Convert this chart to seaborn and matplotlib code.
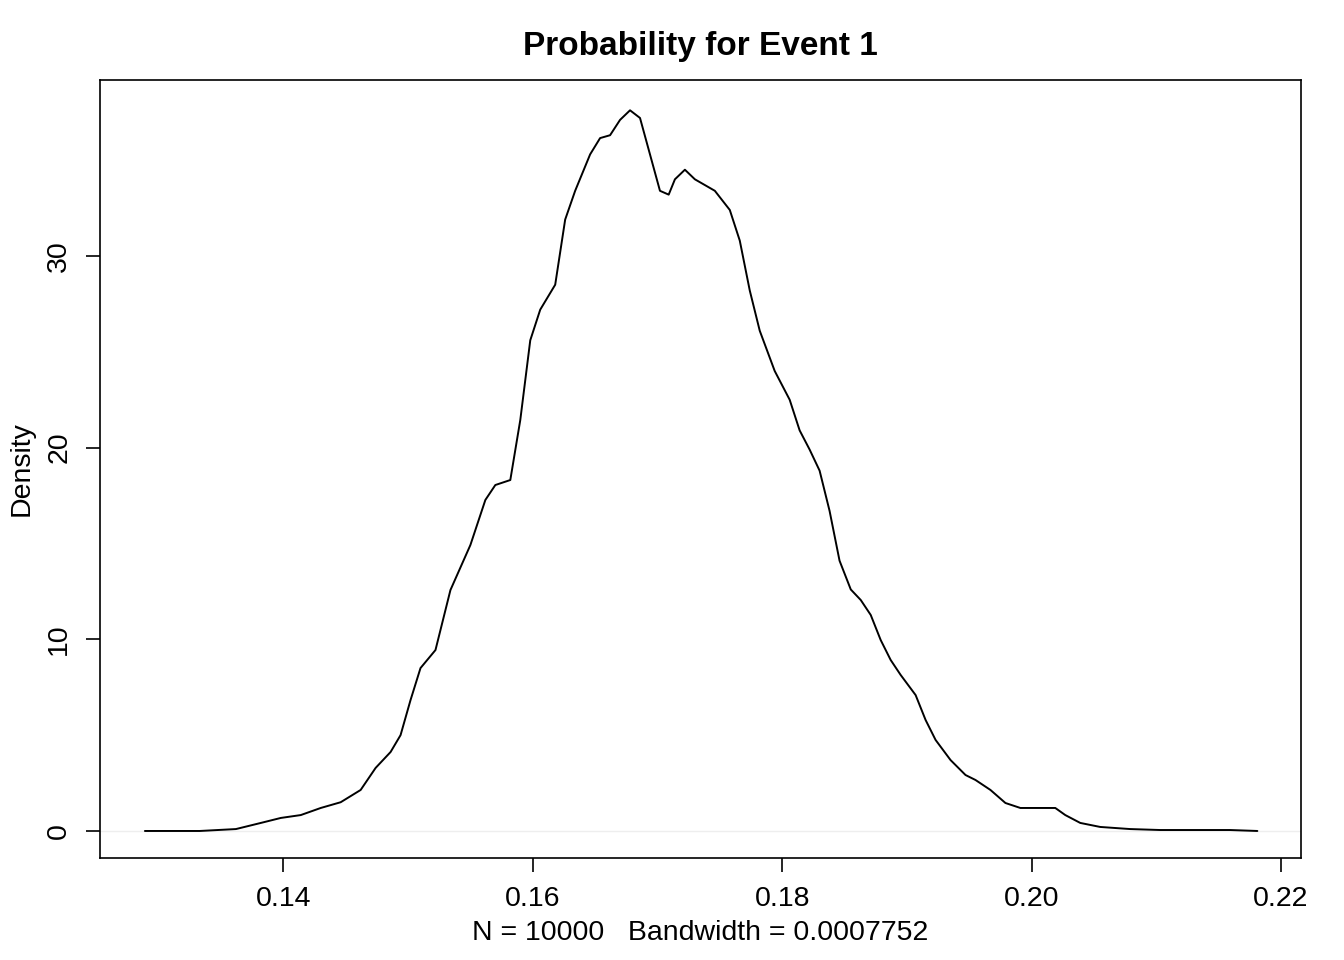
import numpy as np
import pandas as pd
import matplotlib
matplotlib.use("Agg")
import matplotlib.pyplot as plt
import seaborn as sns

# density curve
prob = [0.1289, 0.1333, 0.1362, 0.1382, 0.1398, 0.1414, 0.1430, 0.1446, 0.1462, 0.1474,
        0.1486, 0.1494, 0.1502, 0.1510, 0.1522, 0.1534, 0.1550, 0.1562, 0.1570, 0.1582,
        0.1590, 0.1598, 0.1606, 0.1618, 0.1626, 0.1634, 0.1646, 0.1654, 0.1662, 0.1670,
        0.1678, 0.1686, 0.1694, 0.1702, 0.1709, 0.1714, 0.1722, 0.1730, 0.1738, 0.1746,
        0.1758, 0.1766, 0.1774, 0.1782, 0.1794, 0.1806, 0.1814, 0.1822, 0.1830, 0.1838,
        0.1846, 0.1855, 0.1863, 0.1871, 0.1879, 0.1887, 0.1895, 0.1907, 0.1915, 0.1923,
        0.1935, 0.1947, 0.1955, 0.1967, 0.1979, 0.1991, 0.2003, 0.2019, 0.2027, 0.2039,
        0.2055, 0.2079, 0.2103, 0.2135, 0.2159, 0.2181]
density = [0.0, 0.0, 0.1, 0.42, 0.68, 0.83, 1.2, 1.5, 2.14, 3.29,
           4.12, 5.0, 6.83, 8.5, 9.44, 12.57, 14.92, 17.27, 18.05, 18.31,
           21.44, 25.6, 27.2, 28.5, 31.9, 33.4, 35.3, 36.15, 36.3, 37.1,
           37.6, 37.2, 35.3, 33.4, 33.2, 34.0, 34.5, 34.0, 33.7, 33.4,
           32.4, 30.8, 28.2, 26.1, 24.0, 22.5, 20.9, 19.9, 18.8, 16.7,
           14.1, 12.6, 12.05, 11.27, 9.96, 8.92, 8.14, 7.09, 5.79, 4.75,
           3.7, 2.92, 2.66, 2.14, 1.46, 1.2, 1.2, 1.2, 0.83, 0.42,
           0.21, 0.1, 0.05, 0.05, 0.05, 0.0]
xticks = [0.14, 0.16, 0.18, 0.20, 0.22]
yticks = [0, 10, 20, 30]

df = pd.DataFrame({"x": prob, "y": density})

sns.set_style("ticks")
plt.rcParams['font.family'] = ['Liberation Sans', 'DejaVu Sans']
plt.rcParams['text.color'] = 'black'
plt.rcParams['axes.labelcolor'] = 'black'
plt.rcParams['xtick.color'] = 'black'
plt.rcParams['ytick.color'] = 'black'

fig = plt.figure(figsize=(13.44, 9.6), dpi=100)
ax = fig.add_axes([0.0744, 0.10625, 0.8936, 0.8104])
ax.axhline(0, color="#eeeeee", lw=1)
sns.lineplot(data=df, x="x", y="y", ax=ax, color="black", lw=1.4)

ax.set_xlim(0.1253, 0.2216)
ax.set_ylim(-1.41, 39.18)
ax.set_xticks(xticks)
ax.set_xticklabels([f"{t:.2f}" for t in xticks], fontsize=20.5)
ax.set_yticks(yticks)
ax.set_yticklabels([str(t) for t in yticks], fontsize=20.5, rotation=90, va="center")
ax.tick_params(length=10, width=1.2, direction="out", pad=10)
for s in ax.spines.values():
    s.set_linewidth(1.2)
    s.set_color("black")
    s.set_visible(True)
ax.set_xlabel("N = 10000   Bandwidth = 0.0007752", fontsize=20.5, labelpad=6)
ax.set_ylabel("Density", fontsize=20.5, labelpad=8)
ax.set_title("Probability for Event 1", fontsize=24, fontweight="bold", pad=18)

fig.savefig("out.png", dpi=100)
